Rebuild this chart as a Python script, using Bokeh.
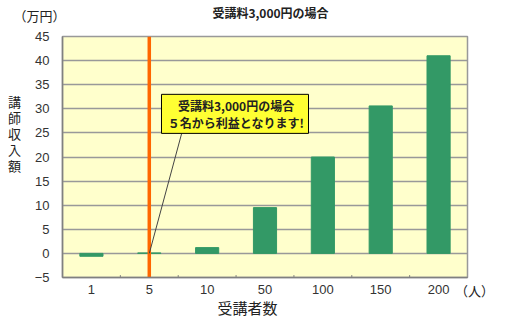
from bokeh.plotting import figure
from bokeh.models import FactorRange, Range1d, FixedTicker, Label, BoxAnnotation
from bokeh.embed import file_html
from bokeh.resources import INLINE

# ---- data ----
categories = ["1", "5", "10", "50", "100", "150", "200"]
income = [-0.6, 0.1, 1.2, 9.5, 20.0, 30.6, 41.0]
y_ticks = [-5, 0, 5, 10, 15, 20, 25, 30, 35, 40, 45]
title_text = "受講料3,000円の場合"
note_lines = ["受講料3,000円の場合", "５名から利益となります!"]
y_label = "講\n師\n収\n入\n額"
x_label = "受講者数"
y_unit = "（万円）"
x_unit = "（人）"
breakeven = "5"

JP = "Noto Sans CJK JP"
NUM = "Liberation Sans"

p = figure(x_range=FactorRange(*categories), y_range=Range1d(-5, 45),
           width=510, height=318, output_backend="svg", toolbar_location=None,
           min_border_left=62, min_border_right=43, min_border_top=36,
           min_border_bottom=41)
p.background_fill_color = "#FFFFCC"
p.border_fill_color = "white"
p.outline_line_color = "#999999"
p.outline_line_width = 1.5

p.xgrid.grid_line_color = None
p.ygrid.grid_line_color = "#999999"
p.ygrid.grid_line_width = 1.5
p.yaxis.ticker = FixedTicker(ticks=y_ticks)

p.yaxis.major_tick_line_color = None
p.yaxis.minor_tick_line_color = None
p.yaxis.major_tick_out = 0
p.yaxis.axis_line_color = "#808080"
p.yaxis.axis_line_width = 1.5
p.yaxis.major_label_standoff = 13
p.yaxis.major_label_text_font = NUM
p.yaxis.major_label_text_font_size = "13px"
p.yaxis.major_label_text_color = "#333333"

p.xaxis.major_tick_line_color = None
p.xaxis.major_tick_out = 0
p.xaxis.axis_line_color = "#808080"
p.xaxis.axis_line_width = 1.5
p.xaxis.major_label_standoff = 7
p.xaxis.major_label_text_font = NUM
p.xaxis.major_label_text_font_size = "13px"
p.xaxis.major_label_text_color = "#333333"

# small inner ticks between categories
bounds = list(range(1, len(categories)))
p.segment(x0=bounds, y0=[-5] * len(bounds), x1=bounds, y1=[-4.5] * len(bounds),
          line_color="#808080", line_width=1)

p.vbar(x=categories, top=income, bottom=0, width=0.4, color="#339966")

p.segment(x0=[breakeven], y0=[-5], x1=[breakeven], y1=[45],
          line_color="#FF6600", line_width=3.5)

p.segment(x0=[2.06], y0=[24.9], x1=[breakeven], y1=[0],
          line_color="#444444", line_width=1)

box = BoxAnnotation(left=1.711, right=4.252, bottom=24.9, top=33.0,
                    fill_color="#FFFF33", fill_alpha=1.0,
                    line_color="black", line_width=1, line_alpha=1.0)
p.add_layout(box)
for txt, yv in zip(note_lines, [30.68, 27.22]):
    p.add_layout(Label(x=3.0, y=yv, text=txt, text_align="center",
                       text_baseline="middle", text_font=JP,
                       text_font_style="bold", text_font_size="12px",
                       text_color="#222222"))


def side_label(place, x, y, text, size="13px", bold=False, lh=1.2):
    p.add_layout(Label(x=x, y=y, x_units="canvas", y_units="canvas", text=text,
                       text_align="center", text_baseline="middle",
                       text_font=JP, text_font_size=size, text_line_height=lh,
                       text_font_style="bold" if bold else "normal",
                       text_color="#222222"), place)


side_label("above", 270, 12, title_text, "12px", True)
side_label("above", 39, 15, y_unit)
side_label("left", 14, 133, y_label, lh=0.85)
side_label("below", 247, 307, x_label, "15px")
side_label("right", 474, 290, x_unit)

open("out.html", "w").write(file_html(p, INLINE))
